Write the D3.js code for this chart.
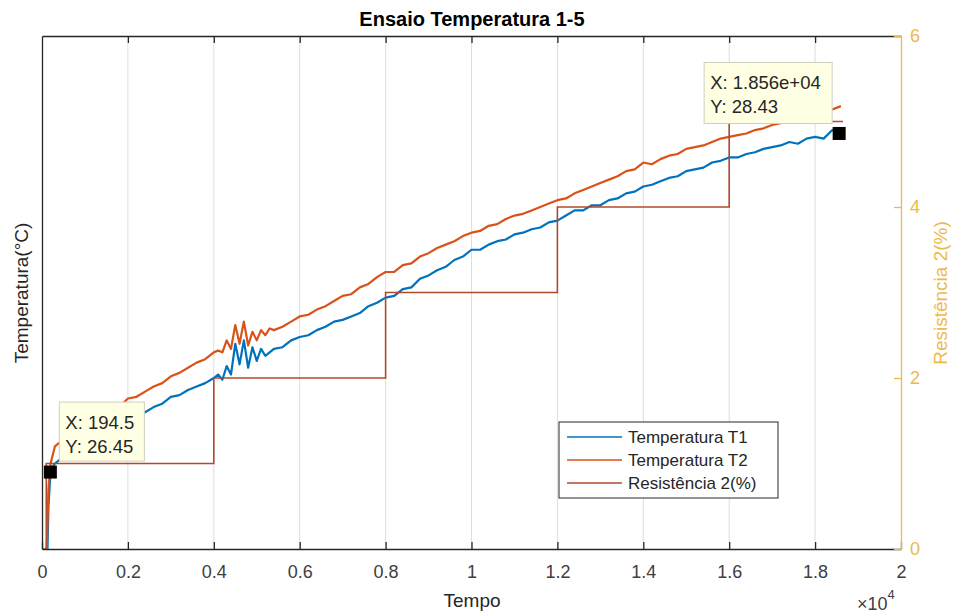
<!DOCTYPE html>
<html>
<head>
<meta charset="utf-8">
<script src="https://cdn.jsdelivr.net/npm/d3@7"></script>
<style>
	body { margin: 0; background: #fff; }
	text { font-family: "Liberation Sans", Arial, sans-serif; }
</style>
</head>
<body>
<div id="chart"></div>
<script>
// time (s) and the two temperature series
var timeSec = [0, 100, 150, 200, 300, 400, 600, 800, 1000, 1200, 1400, 1600, 1800, 2000, 2200, 2400, 2600, 2800, 3000, 3200, 3400, 3600, 3800, 4000,
	4100, 4200, 4300, 4400, 4500, 4600, 4700, 4800, 4900, 5000, 5100, 5200, 5300, 5400,
	5600, 5800, 6000, 6200, 6400, 6600, 6800, 7000, 7200, 7400, 7600, 7800, 8000, 8200, 8400, 8600, 8800, 9000, 9200, 9400, 9600, 9800,
	10000, 10200, 10400, 10600, 10800, 11000, 11200, 11400, 11600, 11800, 12000, 12200, 12400, 12600, 12800, 13000, 13200, 13400, 13600, 13800,
	14000, 14200, 14400, 14600, 14800, 15000, 15200, 15400, 15600, 15800, 16000, 16200, 16400, 16600, 16800, 17000, 17200, 17400, 17600, 17800,
	18000, 18200, 18400, 18600];

var tempT1 = [25.00, 25.70, 26.25, 26.46, 26.50, 26.52, 26.55, 26.58, 26.60, 26.63, 26.66, 26.68, 26.72, 26.76, 26.77, 26.80, 26.83, 26.85, 26.89, 26.90, 26.93, 26.95, 26.97, 27.00,
	27.02, 26.99, 27.07, 27.02, 27.20, 27.08, 27.22, 27.06, 27.18, 27.10, 27.17, 27.13, 27.15, 27.17,
	27.18, 27.22, 27.24, 27.25, 27.28, 27.30, 27.33, 27.34, 27.36, 27.38, 27.42, 27.44, 27.47, 27.48, 27.52, 27.53, 27.58, 27.60, 27.63, 27.65, 27.69, 27.71,
	27.75, 27.75, 27.78, 27.80, 27.81, 27.84, 27.85, 27.87, 27.88, 27.91, 27.92, 27.95, 27.98, 27.98, 28.01, 28.01, 28.04, 28.05, 28.08, 28.09,
	28.12, 28.13, 28.15, 28.17, 28.18, 28.21, 28.22, 28.23, 28.26, 28.27, 28.29, 28.29, 28.31, 28.32, 28.34, 28.35, 28.36, 28.38, 28.37, 28.40,
	28.41, 28.40, 28.45, 28.43];

var tempT2 = [25.20, 25.90, 26.35, 26.50, 26.60, 26.62, 26.64, 26.66, 26.70, 26.73, 26.76, 26.80, 26.83, 26.88, 26.89, 26.92, 26.95, 26.97, 27.01, 27.03, 27.06, 27.09, 27.11, 27.15,
	27.16, 27.15, 27.22, 27.17, 27.31, 27.20, 27.33, 27.19, 27.27, 27.22, 27.28, 27.25, 27.29, 27.28,
	27.30, 27.33, 27.36, 27.37, 27.40, 27.42, 27.45, 27.48, 27.49, 27.53, 27.55, 27.59, 27.62, 27.62, 27.66, 27.67, 27.71, 27.73, 27.76, 27.78, 27.80, 27.83,
	27.85, 27.86, 27.89, 27.90, 27.93, 27.95, 27.96, 27.98, 28.00, 28.02, 28.04, 28.05, 28.08, 28.10, 28.12, 28.14, 28.16, 28.18, 28.21, 28.22,
	28.26, 28.25, 28.28, 28.30, 28.31, 28.34, 28.35, 28.36, 28.38, 28.40, 28.41, 28.42, 28.43, 28.45, 28.46, 28.48, 28.49, 28.50, 28.52, 28.53,
	28.54, 28.55, 28.57, 28.59];

// resistance steps (right axis)
var resTime = [0, 100, 4000, 8000, 12000, 16000, 18650];
var resValue = [0, 1, 2, 3, 4, 5, 5];

var xTicks = [0, 2000, 4000, 6000, 8000, 10000, 12000, 14000, 16000, 18000, 20000];
var rightTicks = [0, 2, 4, 6];
var legendLabels = ['Temperatura T1', 'Temperatura T2', 'Resistência 2(%)'];

// data tips: [x, y]
var tipPoints = [[194.5, 26.45], [18560, 28.43]];
var tipTexts = [['X: 194.5', 'Y: 26.45'], ['X: 1.856e+04', 'Y: 28.43']];

var colT1 = '#0072BD', colT2 = '#D95319', colRes = '#B04A2C', colRight = '#EDB94A';

var W = 955, H = 615;
var pL = 42, pR = 901, pT = 36, pB = 549;

var svg = d3.select('#chart').append('svg').attr('width', W).attr('height', H);

var x = d3.scaleLinear().domain([0, 20000]).range([pL, pR]);
var yL = d3.scaleLinear().domain([26, 29]).range([pB, pT]);
var yR = d3.scaleLinear().domain([0, 6]).range([pB, pT]);

svg.append('clipPath').attr('id', 'plotclip')
	.append('rect').attr('x', pL).attr('y', pT).attr('width', pR - pL).attr('height', pB - pT);

// vertical grid
svg.append('g').selectAll('line')
	.data(xTicks.slice(1, -1))
	.enter().append('line')
	.attr('x1', d => x(d)).attr('x2', d => x(d))
	.attr('y1', pT).attr('y2', pB)
	.attr('stroke', '#DEDEDE').attr('stroke-width', 1);

var plot = svg.append('g').attr('clip-path', 'url(#plotclip)');

var tLine = d3.line().x((d, i) => x(timeSec[i])).y(d => yL(d));
plot.append('path').datum(tempT1)
	.attr('d', tLine).attr('fill', 'none')
	.attr('stroke', colT1).attr('stroke-width', 2.2).attr('stroke-linejoin', 'round');

plot.append('path').datum(tempT2)
	.attr('d', tLine).attr('fill', 'none')
	.attr('stroke', colT2).attr('stroke-width', 2.2).attr('stroke-linejoin', 'round');

var resLine = d3.line().curve(d3.curveStepAfter).x((d, i) => x(resTime[i])).y(d => yR(d));
plot.append('path').datum(resValue)
	.attr('d', resLine).attr('fill', 'none')
	.attr('stroke', colRes).attr('stroke-width', 1.6);

// axes
var xAxis = svg.append('g').attr('transform', 'translate(0,' + pB + ')')
	.call(d3.axisBottom(x).tickValues(xTicks).tickFormat(d => d / 10000)
		.tickSizeInner(-7).tickSizeOuter(0).tickPadding(16));
var xTop = svg.append('g').attr('transform', 'translate(0,' + pT + ')')
	.call(d3.axisTop(x).tickValues(xTicks.slice(1, -1)).tickFormat('')
		.tickSizeInner(-7).tickSizeOuter(0));
var yLeft = svg.append('g').attr('transform', 'translate(' + pL + ',0)')
	.call(d3.axisLeft(yL).tickValues([]).tickSizeOuter(0));
var yRight = svg.append('g').attr('transform', 'translate(' + pR + ',0)')
	.call(d3.axisRight(yR).tickValues(rightTicks).tickFormat(d3.format('d'))
		.tickSizeInner(-7).tickSizeOuter(0).tickPadding(9));

[xAxis, xTop, yLeft].forEach(function(g) {
	g.select('.domain').attr('stroke', '#262626').attr('stroke-width', 1.3);
	g.selectAll('.tick line').attr('stroke', '#262626').attr('stroke-width', 1.3);
});
xAxis.selectAll('text').attr('fill', '#404040').style('font-size', '18px');
yRight.select('.domain').attr('stroke', colRight).attr('stroke-width', 1.3);
yRight.selectAll('.tick line').attr('stroke', colRight).attr('stroke-width', 1.3);
yRight.selectAll('text').attr('fill', colRight).style('font-size', '18px');

// titles
svg.append('text').attr('x', 472).attr('y', 26).attr('text-anchor', 'middle')
	.style('font-size', '20px').style('font-weight', 'bold').attr('fill', '#000')
	.text('Ensaio Temperatura 1-5');
svg.append('text').attr('x', 472).attr('y', 607).attr('text-anchor', 'middle')
	.style('font-size', '19px').attr('fill', '#262626').text('Tempo');
svg.append('text').attr('transform', 'translate(28,293) rotate(-90)').attr('text-anchor', 'middle')
	.style('font-size', '19px').attr('fill', '#262626').text('Temperatura(°C)');
svg.append('text').attr('transform', 'translate(947,293) rotate(-90)').attr('text-anchor', 'middle')
	.style('font-size', '19px').attr('fill', colRight).text('Resistência 2(%)');

var expo = svg.append('text').attr('x', 857).attr('y', 610).attr('fill', '#404040').style('font-size', '18px');
expo.append('tspan').text('×10');
expo.append('tspan').attr('dy', -11).style('font-size', '13px').text('4');

// data tips
var tipBoxes = [[9, -70, 85, 59], [-135, -71, 128, 61]];
tipPoints.forEach(function(p, i) {
	var mx = x(p[0]), my = yL(p[1]);
	var b = tipBoxes[i];
	svg.append('rect')
		.attr('x', mx + b[0]).attr('y', my + b[1])
		.attr('width', b[2]).attr('height', b[3])
		.attr('fill', '#FFFFE4').attr('stroke', '#CFCFC0').attr('stroke-width', 1);
	svg.append('text').attr('x', mx + b[0] + 6).attr('y', my + b[1] + 27)
		.style('font-size', '18.5px').attr('fill', '#262626').text(tipTexts[i][0]);
	svg.append('text').attr('x', mx + b[0] + 6).attr('y', my + b[1] + 51)
		.style('font-size', '18.5px').attr('fill', '#262626').text(tipTexts[i][1]);
	svg.append('rect')
		.attr('x', mx - 6.5).attr('y', my - 6.5)
		.attr('width', 13).attr('height', 13)
		.attr('fill', '#000');
});

// legend
var leg = svg.append('g').attr('transform', 'translate(559,422)');
leg.append('rect').attr('width', 219).attr('height', 76)
	.attr('fill', '#fff').attr('stroke', '#262626').attr('stroke-width', 1);
var legColors = [colT1, colT2, colRes];
legendLabels.forEach(function(lab, i) {
	var cy = 15 + i * 23;
	leg.append('line').attr('x1', 8).attr('x2', 63).attr('y1', cy).attr('y2', cy)
		.attr('stroke', legColors[i]).attr('stroke-width', 1.5);
	leg.append('text').attr('x', 69).attr('y', cy + 6)
		.style('font-size', '17px').attr('fill', '#262626').text(lab);
});
</script>
</body>
</html>
